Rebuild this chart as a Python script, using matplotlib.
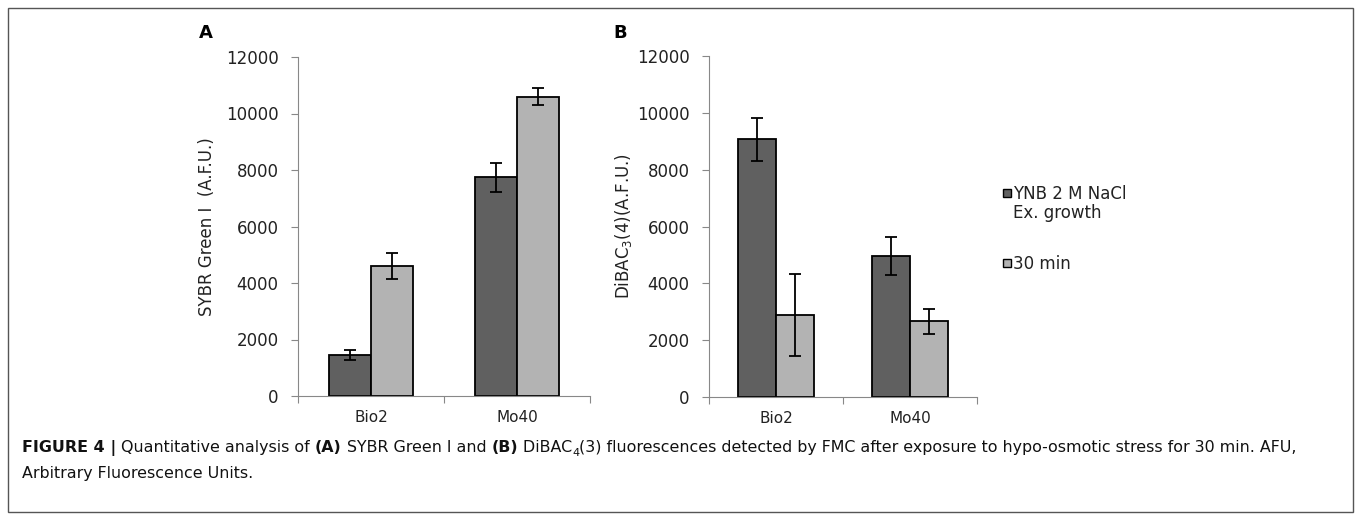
import matplotlib
matplotlib.use('Agg')
from matplotlib import pyplot as plt
from matplotlib.patches import Rectangle
import numpy as np

strains = ['Bio2', 'Mo40']
series = ['YNB 2 M NaCl\nEx. growth', '30 min']

sybr_ex = [1450, 7740]
sybr_ex_err = [190, 520]
sybr_30 = [4600, 10600]
sybr_30_err = [450, 300]

dibac_ex = [9070, 4970]
dibac_ex_err = [760, 660]
dibac_30 = [2890, 2660]
dibac_30_err = [1440, 450]

W, H = 1358, 521
fig = plt.figure(figsize=(W / 100, H / 100), dpi=100)

dark = '#606060'
light = '#b3b3b3'
txt = '#222222'


def px(x0, y0, x1, y1):
    return [x0 / W, 1 - y1 / H, (x1 - x0) / W, (y1 - y0) / H]


def panel(rect, ex, ex_err, m30, m30_err, ylabel, letter, lpos, ylab_x, bw):
    ax = fig.add_axes(rect)
    x = np.arange(len(strains)) + 0.5
    ax.bar(x - bw / 2, ex, bw, color=dark, edgecolor='black', lw=1.3,
           yerr=ex_err, capsize=4, error_kw=dict(lw=1.3, capthick=1.3))
    ax.bar(x + bw / 2, m30, bw, color=light, edgecolor='black', lw=1.3,
           yerr=m30_err, capsize=4, error_kw=dict(lw=1.3, capthick=1.3))
    ax.set_xlim(0, len(strains))
    ax.set_ylim(0, 12000)
    ax.set_yticks(range(0, 12001, 2000))
    ax.set_xticks([0, 1, 2])
    ax.set_xticklabels([])
    ax.set_xticks(x, minor=True)
    ax.set_xticklabels(strains, minor=True, fontsize=11, color=txt)
    ax.tick_params(axis='x', which='major', length=5, color='#888888')
    ax.tick_params(axis='x', which='minor', length=0, pad=10)
    ax.tick_params(axis='y', length=5, color='#888888', labelsize=12,
                   labelcolor=txt, pad=9)
    for s in ['top', 'right']:
        ax.spines[s].set_visible(False)
    for s in ['left', 'bottom']:
        ax.spines[s].set_color('#888888')
    mid = 1 - (rect[1] + rect[3] / 2)
    fig.text(ylab_x / W, 1 - mid, ylabel, rotation=90,
             ha='center', va='center', fontsize=12, color=txt)
    fig.text(lpos[0] / W, 1 - lpos[1] / H, letter, fontsize=13,
             fontweight='bold', ha='center', va='center')
    return ax


axA = panel(px(298, 57, 590, 396), sybr_ex, sybr_ex_err, sybr_30, sybr_30_err,
            'SYBR Green I  (A.F.U.)', 'A', (206, 33), 207, 0.29)
axB = panel(px(709, 56, 977, 397), dibac_ex, dibac_ex_err, dibac_30, dibac_30_err,
            r'DiBAC$_3$(4)(A.F.U.)', 'B', (620, 33), 623, 0.285)

# legend, square aligned with the first text line like the original
for lab, col, ly in zip(series, [dark, light], [193, 263]):
    fig.add_artist(Rectangle((1003 / W, 1 - (ly + 4) / H), 8 / W, 8 / H,
                             transform=fig.transFigure, fc=col, ec='black', lw=1))
    fig.text(1013 / W, 1 - (ly - 8) / H, lab, fontsize=12, color=txt,
             va='top', ha='left', linespacing=1.1)

# caption with mixed bold runs
fig.canvas.draw()
renderer = fig.canvas.get_renderer()


def runs(parts, x, y):
    for s, bold, sub in parts:
        size = 8 if sub else 11.4
        yy = y + (4 if sub else 0)
        t = fig.text(x / W, 1 - yy / H, s, fontsize=size, family='DejaVu Sans',
                     fontweight='bold' if bold else 'normal', va='baseline', color='#111111')
        bb = t.get_window_extent(renderer)
        x += bb.width


runs([('FIGURE 4', True, False), (' | ', True, False),
      ('Quantitative analysis of ', False, False), ('(A)', True, False),
      (' SYBR Green I and ', False, False), ('(B)', True, False),
      (' DiBAC', False, False), ('4', False, True),
      ('(3) fluorescences detected by FMC after exposure to hypo-osmotic stress for 30 min. AFU,', False, False)],
     22, 452)
runs([('Arbitrary Fluorescence Units.', False, False)], 22, 478)

fig.add_artist(Rectangle((8 / W, 1 - 512 / H), 1345 / W, 504 / H, transform=fig.transFigure,
                         fill=False, ec='#555555', lw=1))

fig.savefig('out.png', dpi=100)
